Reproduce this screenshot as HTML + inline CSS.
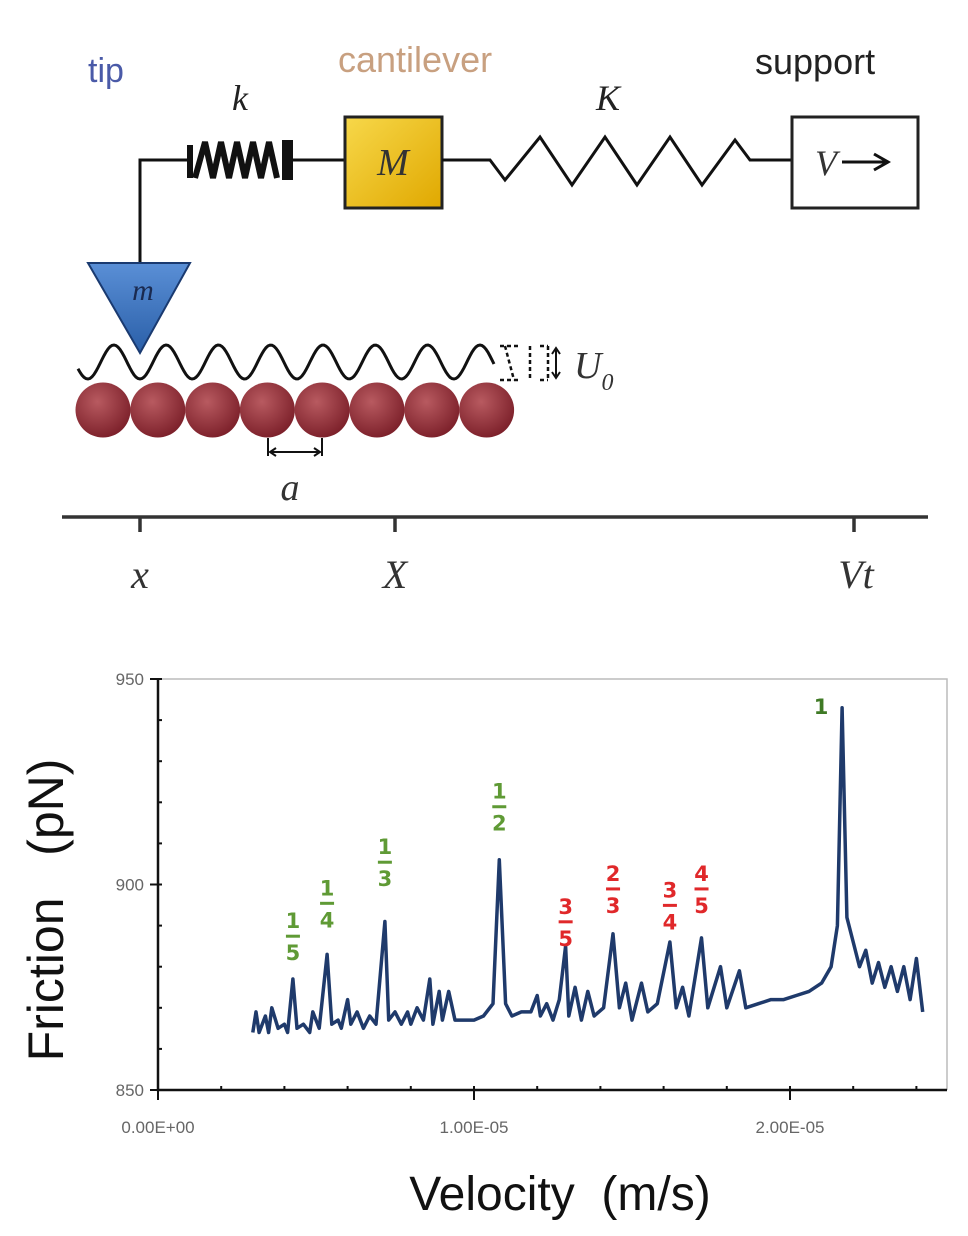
<!DOCTYPE html>
<html><head><meta charset="utf-8"><style>
html,body{margin:0;padding:0;background:#fff;}
svg{display:block;}
</style></head><body>
<svg id="fig" width="968" height="1236" viewBox="0 0 968 1236" xmlns="http://www.w3.org/2000/svg">
<defs>
<linearGradient id="yel" x1="0" y1="0" x2="1" y2="1"><stop offset="0" stop-color="#f7d84a"/><stop offset="1" stop-color="#e0a800"/></linearGradient>
<linearGradient id="blu" x1="0" y1="0" x2="0" y2="1"><stop offset="0" stop-color="#5a8fd6"/><stop offset="1" stop-color="#2a5fa8"/></linearGradient>
<radialGradient id="ball" cx="0.4" cy="0.35" r="0.7"><stop offset="0" stop-color="#b85a60"/><stop offset="1" stop-color="#7a1e28"/></radialGradient>
</defs>
<g>
<text x="88" y="82" font-family="Liberation Sans, sans-serif" font-size="34" fill="#4a5aa8">tip</text>
<text x="338" y="72" font-family="Liberation Sans, sans-serif" font-size="36" fill="#c8a080">cantilever</text>
<text x="755" y="74" font-family="Liberation Sans, sans-serif" font-size="36" fill="#222">support</text>
<text x="232" y="110" font-family="Liberation Serif, serif" font-style="italic" font-size="36" fill="#222">k</text>
<text x="596" y="110" font-family="Liberation Serif, serif" font-style="italic" font-size="36" fill="#222">K</text>
<path d="M140 265 V160 H190" fill="none" stroke="#111" stroke-width="3"/>
<path d="M190 145 V178 M195 178 L205 142 L213 178 L221 142 L229 178 L237 142 L245 178 L253 142 L261 178 L269 142 L277 178 M285 140 V180 M290 140 V180" fill="none" stroke="#111" stroke-width="6"/>
<path d="M290 160 H345" stroke="#111" stroke-width="3"/>
<rect x="345" y="117" width="97" height="91" fill="url(#yel)" stroke="#222" stroke-width="3"/>
<text x="393" y="175" text-anchor="middle" font-family="Liberation Serif, serif" font-style="italic" font-size="38" fill="#333">M</text>
<path d="M442 160 H490 L505 180 L540 137 L572 185 L605 137 L637 185 L670 137 L702 185 L735 140 L750 160 H792" fill="none" stroke="#111" stroke-width="3"/>
<rect x="792" y="117" width="126" height="91" fill="#fff" stroke="#222" stroke-width="3"/>
<text x="815" y="175" font-family="Liberation Serif, serif" font-style="italic" font-size="36" fill="#333">V</text>
<path d="M842 162 H885 M874 154 L888 162 L874 170" fill="none" stroke="#111" stroke-width="3"/>
<path d="M88 263 H190 L140 353 Z" fill="url(#blu)" stroke="#1a3a70" stroke-width="2"/>
<text x="143" y="300" text-anchor="middle" font-family="Liberation Serif, serif" font-style="italic" font-size="30" fill="#1a2a50">m</text>
<path id="wave" d="" fill="none" stroke="#111" stroke-width="3"/>
<path d="M500 346 H518 M500 380 H518 M530 346 V380 M540 346 H548 M540 380 H548 M548 346 V380 M505 346 L514 380" fill="none" stroke="#111" stroke-width="2.5" stroke-dasharray="4 3"/>
<path d="M556 350 V376 M552 354 L556 348 L560 354 M552 372 L556 378 L560 372" fill="none" stroke="#111" stroke-width="2"/>
<text x="574" y="378" font-family="Liberation Serif, serif" font-style="italic" font-size="38" fill="#333">U<tspan font-size="24" dy="12">0</tspan></text>
<g id="balls"></g>
<path d="M268 438 V456 M322 438 V456 M272 452 H318 M276 448 L270 452 L276 456 M314 448 L320 452 L314 456" fill="none" stroke="#111" stroke-width="2"/>
<text x="290" y="500" text-anchor="middle" font-family="Liberation Serif, serif" font-style="italic" font-size="38" fill="#333">a</text>
<path d="M62 517 H928 M140 517 V532 M395 517 V532 M854 517 V532" stroke="#333" stroke-width="3.5"/>
<text x="140" y="588" text-anchor="middle" font-family="Liberation Serif, serif" font-style="italic" font-size="40" fill="#333">x</text>
<text x="395" y="588" text-anchor="middle" font-family="Liberation Serif, serif" font-style="italic" font-size="40" fill="#333">X</text>
<text x="856" y="588" text-anchor="middle" font-family="Liberation Serif, serif" font-style="italic" font-size="40" fill="#333">Vt</text>
</g>
<g id="chart"></g>
</svg>
<script>
const velocity = [3.0,3.1,3.2,3.4,3.5,3.6,3.8,4.0,4.1,4.27,4.4,4.6,4.8,4.9,5.1,5.35,5.5,5.7,5.8,6.0,6.1,6.3,6.5,6.7,6.9,7.18,7.3,7.5,7.7,7.9,8.0,8.2,8.4,8.6,8.7,8.9,9.0,9.2,9.4,9.6,9.8,10.0,10.3,10.6,10.8,11.0,11.2,11.5,11.8,12.0,12.1,12.3,12.5,12.7,12.9,13.0,13.2,13.4,13.6,13.8,14.1,14.4,14.6,14.8,15.0,15.3,15.5,15.8,16.2,16.4,16.6,16.8,17.2,17.4,17.8,18.0,18.4,18.6,19.0,19.4,19.8,20.2,20.6,21.0,21.3,21.5,21.65,21.8,22.0,22.2,22.4,22.6,22.8,23.0,23.2,23.4,23.6,23.8,24.0,24.2];
const friction = [864,869,864,868,864,870,865,866,864,877,865,866,864,869,865,883,866,867,865,872,866,869,865,868,866,891,867,869,866,869,866,870,867,877,866,874,867,874,867,867,867,867,868,871,906,871,868,869,869,873,868,871,867,872,885,868,875,867,874,868,870,888,870,876,867,876,869,871,886,870,875,868,887,870,880,870,879,870,871,872,872,873,874,876,880,890,943,892,886,880,884,876,881,875,880,874,880,872,882,869];
const yTicks = [850,900,950];
const xTicks = [0,10,20];
const xTickLabels = ["0.00E+00","1.00E-05","2.00E-05"];
const fracLabels = [["1","5"],["1","4"],["1","3"],["1","2"],["3","5"],["2","3"],["3","4"],["4","5"]];
const fracVel = [4.27,5.35,7.18,10.8,12.9,14.4,16.2,17.2];
const fracTop = [884.5,892.5,902.5,916,888,896,892,896];
const fracColor = ["#5f9a35","#5f9a35","#5f9a35","#5f9a35","#e0282a","#e0282a","#e0282a","#e0282a"];

const NS="http://www.w3.org/2000/svg";
function mk(p,tag,a){const e=document.createElementNS(NS,tag);for(const k in a)e.setAttribute(k,a[k]);p.appendChild(e);return e;}
let d="";for(let x=78;x<=495;x+=2){const y=362-17*Math.cos((x-140)/52.3*2*Math.PI+Math.PI);d+=(x===78?"M":"L")+x+" "+y.toFixed(1)+" ";}
document.getElementById('wave').setAttribute('d',d);
const bg=document.getElementById('balls');
for(let i=0;i<8;i++){const c=mk(bg,'circle',{cx:103+i*54.8,cy:410,r:27.5,fill:'url(#ball)'});

}

const X0=158,X1=947,Y0=1090,Y1=679;
const sx=v=>X0+v*31.6;
const sy=f=>Y0-(f-850)*(Y0-Y1)/100;
const g=document.getElementById('chart');
const frame=mk(g,'path',{d:`M${X0} ${Y1} H${X1} V${Y0}`,fill:'none',stroke:'#bbb','stroke-width':1.5});


const ax=mk(g,'path',{d:`M${X0} ${Y1} V${Y0} H${X1}`,fill:'none',stroke:'#111','stroke-width':2.5});


for(let f=850;f<=950;f+=10){const t=mk(g,'line',{x1:X0-(f%50?0:8),x2:X0+4,y1:sy(f),y2:sy(f),stroke:'#111','stroke-width':2});

}
for(let v=0;v<=24;v+=2){const t=mk(g,'line',{x1:sx(v),x2:sx(v),y1:Y0-4,y2:Y0+(v%10?0:10),stroke:'#111','stroke-width':2});

}
yTicks.forEach(f=>{const t=mk(g,'text',{x:X0-14,y:sy(f)+6,'text-anchor':'end','font-family':'Liberation Sans, sans-serif','font-size':17,fill:'#666'});t.textContent=f;

});
xTicks.forEach((v,i)=>{const t=mk(g,'text',{x:sx(v),y:1133,'text-anchor':'middle','font-family':'Liberation Sans, sans-serif','font-size':17,fill:'#666'});t.textContent=xTickLabels[i];

});
let pd="";velocity.forEach((v,i)=>{pd+=(i?"L":"M")+sx(v).toFixed(1)+" "+sy(friction[i]).toFixed(1)+" ";});
const line=mk(g,'path',{d:pd,fill:'none',stroke:'#1f3a6b','stroke-width':3.5,'stroke-linejoin':'round'});


fracLabels.forEach((fr,i)=>{const x=sx(fracVel[i]),y=sy(fracTop[i]);
const gg=mk(g,'g',{fill:fracColor[i],'font-family':'DejaVu Sans, sans-serif','font-weight':'bold','font-size':21,'text-anchor':'middle'});


mk(gg,'text',{x:x,y:y-20}).textContent=fr[0];
mk(gg,'rect',{x:x-7,y:y-13.5,width:14,height:3});
mk(gg,'text',{x:x,y:y+12}).textContent=fr[1];});
const one=mk(g,'text',{x:821,y:714,'text-anchor':'middle','font-family':'DejaVu Sans, sans-serif','font-weight':'bold','font-size':21,fill:'#3f7a25'});one.textContent="1";


const yt=mk(g,'text',{x:0,y:0,transform:'translate(63,910) rotate(-90)','text-anchor':'middle','font-family':'Liberation Sans, sans-serif','font-size':50,fill:'#111'});yt.textContent="Friction\u00a0\u00a0 (pN)";


const xt=mk(g,'text',{x:560,y:1210,'text-anchor':'middle','font-family':'Liberation Sans, sans-serif','font-size':48,fill:'#111'});xt.textContent="Velocity\u00a0 (m/s)";


</script>
</body></html>
